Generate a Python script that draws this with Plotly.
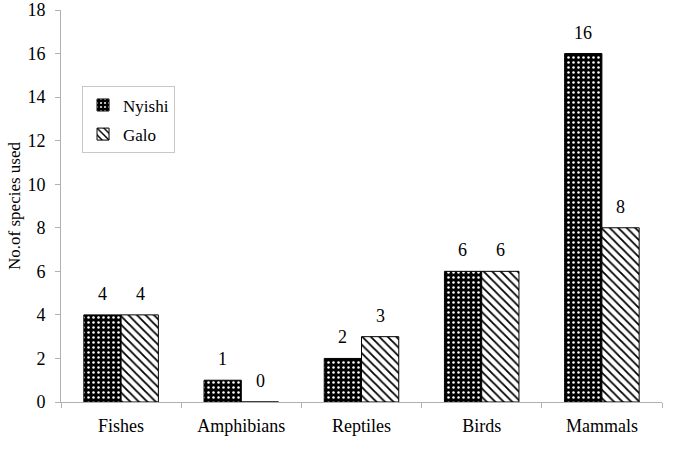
import plotly.graph_objects as go

categories = ["Fishes", "Amphibians", "Reptiles", "Birds", "Mammals"]
nyishi = [4, 1, 2, 6, 16]
galo = [4, 0, 3, 6, 8]
y_ticks = [0, 2, 4, 6, 8, 10, 12, 14, 16, 18]

FONT = "Liberation Serif, Times New Roman, serif"
FS = 18

fig = go.Figure()
fig.add_trace(go.Bar(
    x=categories, y=nyishi, name="Nyishi", legendgroup="a",
    marker=dict(color="black", line=dict(color="black", width=1),
                pattern=dict(shape=".", fgcolor="white", bgcolor="black",
                             size=5, solidity=0.2, fillmode="replace")),
))
fig.add_trace(go.Bar(
    x=categories, y=galo, name="Galo", legendgroup="b",
    marker=dict(color="white", line=dict(color="black", width=1),
                pattern=dict(shape="\\", fgcolor="black", bgcolor="white",
                             size=6, solidity=0.3, fillmode="replace")),
))

annotations = []
for c, v in zip(categories, nyishi):
    annotations.append(dict(x=c, y=v, text=str(v), xshift=-19, yshift=9,
                            yanchor="bottom", showarrow=False,
                            font=dict(family=FONT, size=FS, color="black")))
for c, v in zip(categories, galo):
    annotations.append(dict(x=c, y=v, text=str(v), xshift=19, yshift=9,
                            yanchor="bottom", showarrow=False,
                            font=dict(family=FONT, size=FS, color="black")))

fig.update_layout(
    width=685, height=449,
    margin=dict(l=61, r=23, t=10, b=47, autoexpand=False),
    paper_bgcolor="white", plot_bgcolor="white",
    font=dict(family=FONT, size=FS, color="black"),
    barmode="group", bargap=0.38, bargroupgap=0,
    showlegend=True,
    legend=dict(x=0.035, y=0.805, xanchor="left", yanchor="top",
                bordercolor="#c8c8c8", borderwidth=1, bgcolor="white",
                tracegroupgap=4, itemwidth=30,
                font=dict(family=FONT, size=FS - 1)),
    annotations=annotations,
    xaxis=dict(showline=True, linecolor="#b0b0b0", linewidth=1,
               ticks="outside", tickson="boundaries", tickcolor="#b0b0b0",
               ticklen=5, showgrid=False, automargin=False,
               ticklabelstandoff=7,
               tickfont=dict(family=FONT, size=FS)),
    yaxis=dict(range=[0, 18], tickvals=y_ticks, showline=True,
               linecolor="#b0b0b0", linewidth=1, ticks="outside",
               tickcolor="#b0b0b0", ticklen=5, showgrid=False, zeroline=False,
               automargin=False, ticklabelstandoff=6,
               title=dict(text="No.of species used", font=dict(family=FONT, size=FS - 1), standoff=2),
               tickfont=dict(family=FONT, size=FS)),
)

fig.write_html("out.html", config={"displayModeBar": False},
               post_script="document.body.style.margin='0';document.body.style.padding='0';")
